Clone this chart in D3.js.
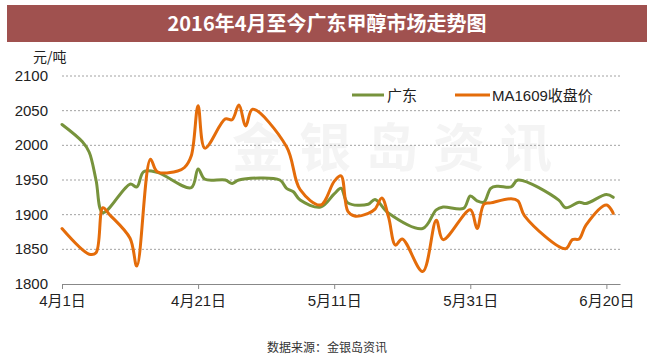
<!DOCTYPE html>
<html><head><meta charset="utf-8">
<script src="https://cdn.jsdelivr.net/npm/d3@7"></script>
<style>
body{margin:0;background:#fff;}
svg{display:block;}
text{font-family:"Liberation Sans","Noto Sans CJK SC",sans-serif;}
</style></head><body>
<svg id="c" width="653" height="356"></svg>
<script>
const title = "2016年4月至今广东甲醇市场走势图";
const unitLabel = "元/吨";
const sourceLabel = "数据来源：金银岛资讯";
const watermark = "金银岛资讯";
const seriesNames = ["广东", "MA1609收盘价"];
const seriesColors = ["#77933C", "#E46C0A"];
const yTicks = [1800, 1850, 1900, 1950, 2000, 2050, 2100];
const xTickDates = ["2016-04-01", "2016-04-21", "2016-05-11", "2016-05-31", "2016-06-20"];
const xTickLabels = ["4月1日", "4月21日", "5月11日", "5月31日", "6月20日"];

const gdDates = ["2016-04-01","2016-04-04","2016-04-05","2016-04-06","2016-04-07","2016-04-11","2016-04-12","2016-04-13","2016-04-15","2016-04-20","2016-04-21","2016-04-22","2016-04-25","2016-04-26","2016-04-27","2016-05-03","2016-05-04","2016-05-05","2016-05-06","2016-05-09","2016-05-11","2016-05-12","2016-05-13","2016-05-16","2016-05-17","2016-05-19","2016-05-24","2016-05-26","2016-05-27","2016-05-30","2016-05-31","2016-06-01","2016-06-02","2016-06-03","2016-06-04","2016-06-06","2016-06-07","2016-06-13","2016-06-14","2016-06-16","2016-06-17","2016-06-20","2016-06-21"];
const gdValues = [2030,2005,1990,1950,1903,1944,1940,1962,1961,1939,1966,1951,1950,1945,1950,1950,1938,1933,1921,1911,1930,1938,1917,1915,1922,1902,1880,1907,1911,1909,1927,1920,1918,1938,1941,1940,1950,1921,1910,1918,1916,1929,1925];

const maDates = ["2016-04-01","2016-04-05","2016-04-06","2016-04-07","2016-04-08","2016-04-11","2016-04-12","2016-04-14","2016-04-15","2016-04-18","2016-04-19","2016-04-20","2016-04-21","2016-04-22","2016-04-25","2016-04-26","2016-04-27","2016-04-28","2016-04-29","2016-05-04","2016-05-06","2016-05-09","2016-05-11","2016-05-12","2016-05-13","2016-05-14","2016-05-16","2016-05-17","2016-05-18","2016-05-19","2016-05-20","2016-05-21","2016-05-24","2016-05-26","2016-05-27","2016-05-31","2016-06-01","2016-06-02","2016-06-03","2016-06-06","2016-06-07","2016-06-08","2016-06-14","2016-06-15","2016-06-16","2016-06-17","2016-06-20","2016-06-21"];
const maValues = [1880,1843,1845,1910,1900,1866,1826,1980,1962,1963,1968,1985,2057,1996,2038,2037,2058,2028,2052,1998,1936,1914,1948,1956,1905,1898,1902,1908,1924,1896,1856,1865,1818,1892,1864,1907,1880,1915,1917,1923,1920,1898,1851,1864,1865,1885,1914,1902];

const svg = d3.select("#c");
const parse = d3.timeParse("%Y-%m-%d");

// title bar
svg.append("rect").attr("x",7).attr("y",5).attr("width",640).attr("height",37).attr("fill","#A0514F");
svg.append("text").attr("x",327).attr("y",31).attr("text-anchor","middle")
  .attr("fill","#fff").attr("font-size",20).attr("font-weight","bold")
  .style("font-family","'Noto Sans CJK SC',sans-serif").text(title);

// watermark (very faint)
svg.append("text").attr("x",232).attr("y",167).attr("font-size",52)
  .attr("letter-spacing",15).attr("fill","#f4f4f4").attr("font-weight","bold")
  .style("font-family","'Noto Sans CJK SC',sans-serif").text(watermark);

const x = d3.scaleTime().domain([parse("2016-04-01"), parse("2016-06-22")]).range([62, 620]);
const y = d3.scaleLinear().domain([1800, 2100]).range([284, 76]);

// gridlines
svg.append("g").selectAll("line").data(yTicks.filter(d => d > 1800)).join("line")
  .attr("x1",62).attr("x2",620).attr("y1",d=>y(d)).attr("y2",d=>y(d))
  .attr("stroke","#8a8a8a").attr("stroke-width",0.8).attr("stroke-dasharray","2,2");

// y labels
svg.append("g").selectAll("text").data(yTicks).join("text")
  .attr("x",48).attr("y",d=>y(d)+5).attr("text-anchor","end")
  .attr("font-size",15).attr("fill","#222").text(d=>d);

svg.append("text").attr("x",33).attr("y",62).attr("font-size",14).attr("fill","#222")
  .style("font-family","'Noto Sans CJK SC',sans-serif").text(unitLabel);

// x axis
const tickDates = xTickDates.map(parse);
const xAxis = d3.axisBottom(x).tickValues(tickDates).tickSize(5).tickSizeOuter(0)
  .tickFormat((d,i) => xTickLabels[i]);
const gx = svg.append("g").attr("transform","translate(0,284)").call(xAxis);
gx.select(".domain").attr("stroke","#888").attr("stroke-width",1.2);
gx.selectAll(".tick line").attr("stroke","#888");
gx.selectAll(".tick text").attr("font-size",15).attr("fill","#222").attr("dy","0.95em")
  .style("font-family","'Liberation Sans','Noto Sans CJK SC',sans-serif");

// lines
const line = d3.line().x(d=>x(d[0])).y(d=>y(d[1])).curve(d3.curveCatmullRom.alpha(0.5));
const gdData = gdDates.map((d,i)=>[parse(d), gdValues[i]]);
const maData = maDates.map((d,i)=>[parse(d), maValues[i]]);
[gdData, maData].forEach((data,i)=>{
  svg.append("path").datum(data).attr("d",line).attr("fill","none")
    .attr("stroke",seriesColors[i]).attr("stroke-width",3)
    .attr("stroke-linejoin","round").attr("stroke-linecap","round");
});

// legend
const legendItems = [{x1:352,x2:384,tx:387},{x1:455,x2:490,tx:492}];
legendItems.forEach((it,i)=>{
  svg.append("line").attr("x1",it.x1).attr("x2",it.x2).attr("y1",95).attr("y2",95)
    .attr("stroke",seriesColors[i]).attr("stroke-width",3);
  svg.append("text").attr("x",it.tx).attr("y",101).attr("font-size",15).attr("fill","#222")
    .text(seriesNames[i]);
});

// source
svg.append("text").attr("x",327).attr("y",352).attr("text-anchor","middle")
  .attr("font-size",12).attr("fill","#333")
  .style("font-family","'Noto Sans CJK SC',sans-serif").text(sourceLabel);
</script>
</body></html>
